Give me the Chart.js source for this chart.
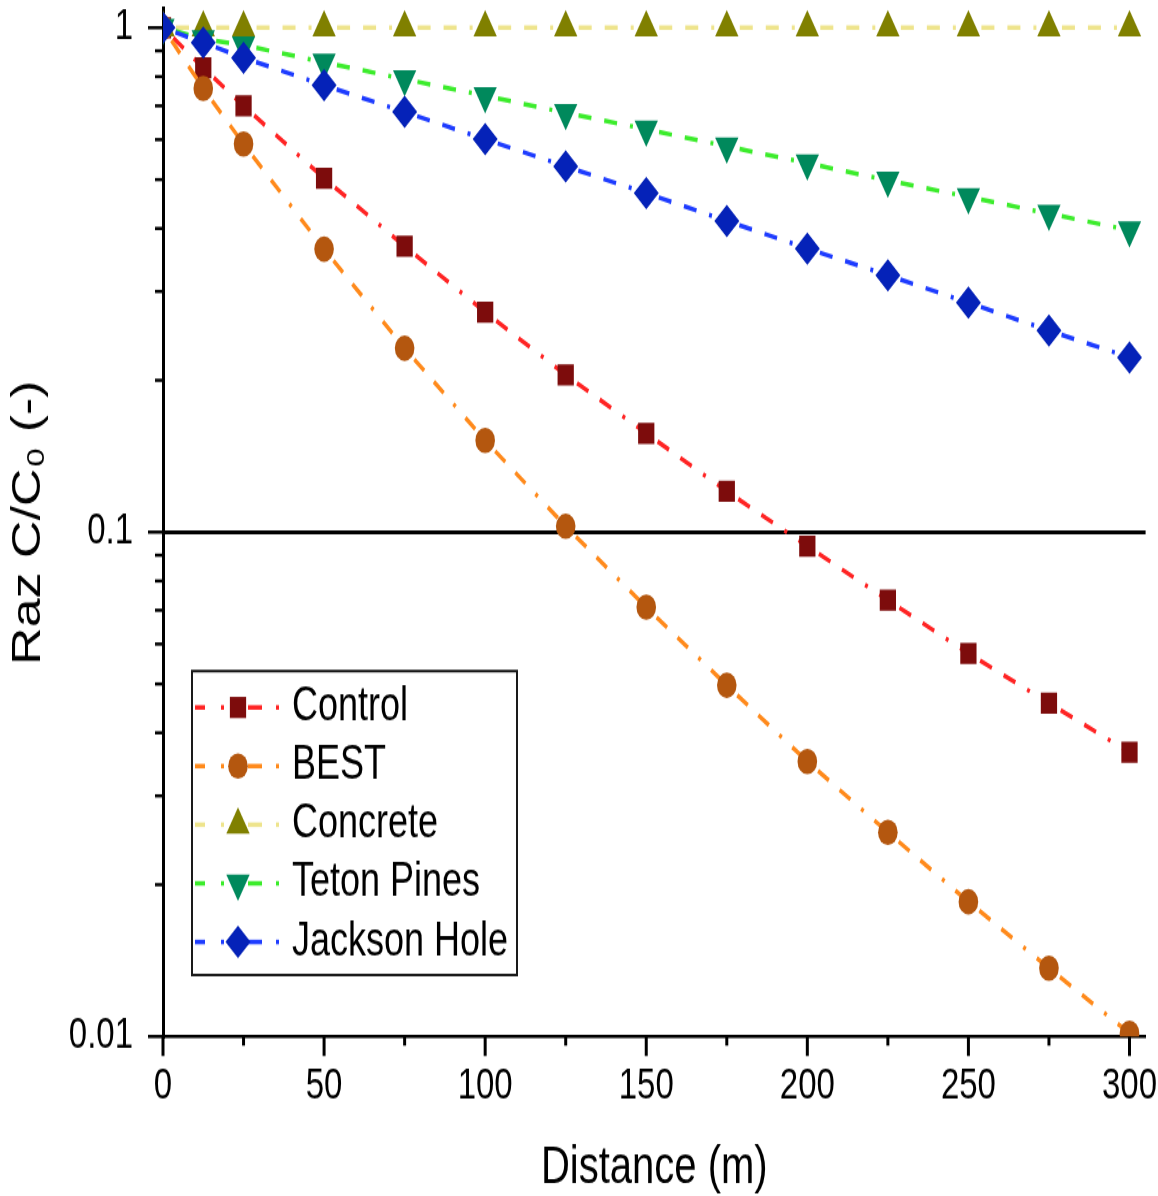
<!DOCTYPE html>
<html>
<head>
<meta charset="utf-8">
<script src="https://cdn.jsdelivr.net/npm/chart.js"></script>
<style>
html, body { margin: 0; padding: 0; background: #ffffff; }
</style>
</head>
<body>
<canvas id="c" width="1158" height="920" style="display:block;width:1158px;height:1196px"></canvas>
<script>
// ---------- data ----------
const distances   = [0, 12.5, 25, 50, 75, 100, 125, 150, 175, 200, 225, 250, 275, 300];
const control     = [1, 0.833, 0.700, 0.503, 0.369, 0.273, 0.205, 0.157, 0.1205, 0.0938, 0.0733, 0.0575, 0.0458, 0.0366];
const best        = [1, 0.758, 0.588, 0.364, 0.2315, 0.152, 0.1027, 0.0710, 0.0497, 0.0351, 0.0254, 0.0185, 0.01366, 0.01015];
const concrete    = [1, 1, 1, 1, 1, 1, 1, 1, 1, 1, 1, 1, 1, 1];
const tetonPines  = [1, 0.950, 0.924, 0.854, 0.791, 0.733, 0.678, 0.629, 0.582, 0.539, 0.498, 0.462, 0.428, 0.397];
const jacksonHole = [1, 0.934, 0.872, 0.769, 0.681, 0.601, 0.531, 0.470, 0.414, 0.365, 0.323, 0.285, 0.251, 0.222];
const seriesNames = ['Control', 'BEST', 'Concrete', 'Teton Pines', 'Jackson Hole'];
const seriesValues = [control, best, concrete, tetonPines, jacksonHole];
const xTickValues = [0, 50, 100, 150, 200, 250, 300];
const xTickLabels = ['0', '50', '100', '150', '200', '250', '300'];
const yTickValues = [0.01, 0.1, 1];
const yTickLabels = ['0.01', '0.1', '1'];
const xTitle = 'Distance (m)';
const yTitle = 'Raz C/C₀ (-)';

// ---------- styles ----------
const FONT = "'Liberation Sans', Arial, Helvetica, sans-serif";
const styles = [
  { line: '#ff2424', fill: '#7d0c0c', point: 'rect',     radius: 11.5, rotation: 0 },
  { line: '#ff8a1c', fill: '#b4570f', point: 'circle',   radius: 9.8,  rotation: 0 },
  { line: '#eee48c', fill: '#808000', point: 'triangle', radius: 13.5, rotation: 0 },
  { line: '#3cec2c', fill: '#00895c', point: 'triangle', radius: 13.5, rotation: 180 },
  { line: '#1e3cff', fill: '#0522b8', point: 'rectRot',  radius: 12.5, rotation: 0 }
];
const DASH = [13, 13, 13, 13, 3, 13];
const DASH_OFFSET = 55;

const axisTicksPlugin = {
  id: 'axisTicks',
  afterDraw(chart) {
    const ctx = chart.ctx, xs = chart.scales.x, ys = chart.scales.y, area = chart.chartArea;
    ctx.save();
    ctx.strokeStyle = '#000';
    ctx.lineCap = 'butt';
    ctx.setLineDash([]);
    // y ticks (log: majors + minors)
    ctx.lineWidth = 2.5;
    for (let e = -2; e <= 0; e++) {
      for (let m = 1; m <= 9; m++) {
        const v = m * Math.pow(10, e);
        if (v > ys.max + 1e-12) break;
        if (v < ys.min - 1e-12) continue;
        const y = ys.getPixelForValue(v);
        const len = m === 1 ? 15 : 8;
        ctx.beginPath(); ctx.moveTo(area.left, y); ctx.lineTo(area.left - len, y); ctx.stroke();
      }
    }
    // x ticks
    ctx.lineWidth = 3;
    for (let v = 0; v <= 300; v += 25) {
      const x = xs.getPixelForValue(v);
      const len = v % 50 === 0 ? 15 : 7;
      ctx.beginPath(); ctx.moveTo(x, area.bottom); ctx.lineTo(x, area.bottom + len); ctx.stroke();
    }
    ctx.restore();
  }
};

function fallbackPoint(ctx, o, x, y) {
  const r = o.radius;
  ctx.beginPath();
  if (o.pointStyle === 'rect') { const s = r * Math.SQRT1_2; ctx.rect(x - s, y - s, 2 * s, 2 * s); }
  else if (o.pointStyle === 'circle') { ctx.arc(x, y, r, 0, Math.PI * 2); }
  else if (o.pointStyle === 'rectRot') { ctx.moveTo(x - r, y); ctx.lineTo(x, y - r); ctx.lineTo(x + r, y); ctx.lineTo(x, y + r); ctx.closePath(); }
  else {
    let a = (o.rotation || 0) * Math.PI / 180;
    ctx.moveTo(x + Math.sin(a) * r, y - Math.cos(a) * r);
    a += Math.PI * 2 / 3; ctx.lineTo(x + Math.sin(a) * r, y - Math.cos(a) * r);
    a += Math.PI * 2 / 3; ctx.lineTo(x + Math.sin(a) * r, y - Math.cos(a) * r);
    ctx.closePath();
  }
  ctx.fill();
}

const boxLegendPlugin = {
  id: 'boxLegend',
  afterDraw(chart) {
    const ctx = chart.ctx;
    const box = { x: 192, y: 516.2, w: 325, h: 233.8 };
    ctx.save();
    ctx.fillStyle = '#ffffff';
    ctx.fillRect(box.x, box.y, box.w, box.h);
    ctx.setLineDash([]);
    ctx.lineWidth = 2;
    ctx.strokeStyle = '#1a1a1a';
    ctx.strokeRect(box.x, box.y, box.w, box.h);
    chart.data.datasets.forEach((ds, i) => {
      const cy = 544.2 + i * 45.1;
      ctx.strokeStyle = ds.borderColor;
      ctx.lineWidth = ds.borderWidth;
      ctx.lineCap = 'butt';
      [[195, 205], [221, 224], [248, 262], [276, 279]].forEach(([a, b]) => {
        ctx.beginPath(); ctx.moveTo(a, cy); ctx.lineTo(b, cy); ctx.stroke();
      });
      ctx.fillStyle = ds.pointBackgroundColor;
      const opts = { pointStyle: ds.pointStyle, rotation: ds.pointRotation, radius: ds.pointRadius, borderWidth: 0 };
      if (window.Chart && Chart.helpers && Chart.helpers.drawPoint) Chart.helpers.drawPoint(ctx, opts, 238, cy);
      else fallbackPoint(ctx, opts, 238, cy);
      ctx.fillStyle = '#000';
      ctx.font = '36px ' + FONT;
      ctx.textBaseline = 'middle';
      ctx.textAlign = 'left';
      ctx.fillText(ds.label, 292, cy);
    });
    ctx.restore();
  }
};

new Chart(document.getElementById('c'), {
  type: 'line',
  data: {
    datasets: seriesValues.map((vals, i) => ({
      label: seriesNames[i],
      data: distances.map((d, j) => ({ x: d, y: vals[j] })),
      borderColor: styles[i].line,
      backgroundColor: styles[i].fill,
      pointBackgroundColor: styles[i].fill,
      pointBorderColor: styles[i].fill,
      pointBorderWidth: 0,
      pointStyle: styles[i].point,
      pointRotation: styles[i].rotation,
      pointRadius: styles[i].radius,
      pointHoverRadius: styles[i].radius,
      borderWidth: 3.5,
      borderDash: DASH,
      borderCapStyle: 'butt',
      tension: 0,
      fill: false,
      segment: { borderDashOffset: c => DASH_OFFSET + c.p0DataIndex * 0.001 },
      order: 5 - i
    }))
  },
  options: {
    responsive: false,
    animation: false,
    devicePixelRatio: 1,
    events: [],
    layout: { autoPadding: false, padding: { left: 0, top: 6.8, right: 12.4, bottom: 0 } },
    plugins: { legend: { display: false }, tooltip: { enabled: false } },
    scales: {
      x: {
        type: 'linear', min: 0, max: 305,
        afterBuildTicks: s => { s.ticks = xTickValues.map(v => ({ value: v })); },
        afterFit: s => { s.height = 122.7; s.paddingLeft = 0; s.paddingRight = 0; },
        grid: { display: false, drawTicks: false },
        border: { display: true, color: '#000', width: 2.5 },
        ticks: {
          color: '#000', font: { family: FONT, size: 33 }, padding: 19, maxRotation: 0, autoSkip: false,
          callback: v => { const k = xTickValues.indexOf(v); return k >= 0 ? xTickLabels[k] : ''; }
        },
        title: { display: true, text: xTitle, color: '#000', font: { family: FONT, size: 40, lineHeight: 1 }, padding: { top: 0, bottom: 1 } }
      },
      y: {
        type: 'logarithmic', min: 0.01, max: 1.09,
        afterBuildTicks: s => { s.ticks = yTickValues.map(v => ({ value: v, major: true })); },
        afterFit: s => { s.width = 163; s.paddingTop = 0; s.paddingBottom = 0; },
        grid: {
          display: true, drawTicks: false, lineWidth: 3,
          color: c => (c.tick && Math.abs(c.tick.value - 0.1) < 1e-9) ? '#000' : 'rgba(0,0,0,0)'
        },
        border: { display: true, color: '#000', width: 3 },
        ticks: {
          color: '#000', font: { family: FONT, size: 33 }, padding: 30,
          callback: v => { const k = yTickValues.findIndex(t => Math.abs(t - v) < 1e-9); return k >= 0 ? yTickLabels[k] : ''; }
        },
        title: { display: true, text: yTitle, color: '#000', font: { family: FONT, size: 40, lineHeight: 1.2 }, padding: { top: 5, bottom: 0 } }
      }
    }
  },
  plugins: [axisTicksPlugin, boxLegendPlugin]
});
</script>
</body>
</html>
